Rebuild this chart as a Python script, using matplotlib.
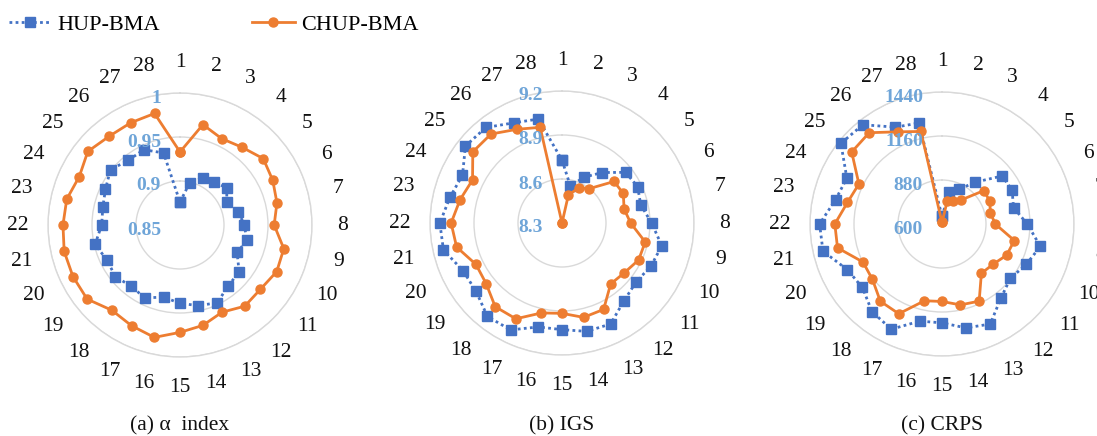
import numpy as np
import matplotlib
matplotlib.use("Agg")
import matplotlib.pyplot as plt
from matplotlib.lines import Line2D
from matplotlib.transforms import offset_copy

plt.rcParams["font.family"] = ["Liberation Serif", "DejaVu Serif"]

W, H = 1097, 436
BLUE = "#4472C4"
ORANGE = "#ED7D31"
TICK_BLUE = "#6FA5D8"
GRID = "#D9D9D9"

categories = [str(i) for i in range(1, 29)]

# (a) alpha index
alpha_hup = [0.876, 0.899, 0.909, 0.912, 0.918, 0.909, 0.918, 0.923, 0.928, 0.922,
             0.936, 0.938, 0.948, 0.944, 0.939, 0.934, 0.942, 0.939, 0.944, 0.942,
             0.949, 0.939, 0.940, 0.944, 0.951, 0.944, 0.945, 0.934]
alpha_chup = [0.933, 0.967, 0.959, 0.963, 0.971, 0.967, 0.963, 0.957, 0.971, 0.972,
              0.967, 0.968, 0.960, 0.967, 0.972, 0.981, 0.977, 0.974, 0.985, 0.985,
              0.985, 0.983, 0.982, 0.977, 0.984, 0.979, 0.979, 0.980]
alpha_ticks = [0.85, 0.9, 0.95, 1.0]
alpha_ticklabels = ["0.85", "0.9", "0.95", "1"]

# (b) IGS
igs_hup = [8.729, 8.558, 8.647, 8.740, 8.854, 8.872, 8.851, 8.911, 8.998, 8.974,
           8.946, 8.978, 9.064, 9.058, 9.027, 9.027, 9.109, 9.115, 9.049, 9.049,
           9.129, 9.133, 9.084, 9.053, 9.142, 9.133, 9.058, 9.027]
igs_chup = [8.300, 8.496, 8.567, 8.600, 8.754, 8.764, 8.734, 8.768, 8.882, 8.880,
            8.844, 8.832, 8.954, 8.960, 8.916, 8.929, 9.025, 9.030, 8.962, 8.951,
            9.037, 9.056, 9.013, 8.977, 9.078, 9.076, 9.009, 8.969]
igs_ticks = [8.3, 8.6, 8.9, 9.2]
igs_ticklabels = ["8.3", "8.6", "8.9", "9.2"]

# (c) CRPS
crps_hup = [648, 806, 844, 941, 1090, 1095, 1067, 1143, 1242, 1194,
            1156, 1202, 1307, 1278, 1229, 1234, 1343, 1314, 1248, 1269,
            1377, 1379, 1295, 1272, 1423, 1408, 1284, 1259]
crps_chup = [610, 747, 764, 796, 941, 937, 916, 939, 1072, 1057,
             1013, 1002, 1145, 1128, 1093, 1101, 1234, 1229, 1166, 1158,
             1282, 1282, 1217, 1187, 1335, 1343, 1251, 1204]
crps_ticks = [600, 880, 1160, 1440]
crps_ticklabels = ["600", "880", "1160", "1440"]

panels = [
    ("(a) α  index", alpha_hup, alpha_chup, alpha_ticks, alpha_ticklabels, 180, 225),
    ("(b) IGS", igs_hup, igs_chup, igs_ticks, igs_ticklabels, 562, 223),
    ("(c) CRPS", crps_hup, crps_chup, crps_ticks, crps_ticklabels, 942, 224),
]
R = 132  # outer ring radius in pixels

fig = plt.figure(figsize=(W / 100, H / 100), dpi=100)
fig.patch.set_facecolor("white")

theta = np.linspace(0, 2 * np.pi, len(categories), endpoint=False)
theta_closed = np.append(theta, theta[0])

for caption, hup, chup, ticks, ticklabels, cx, cy in panels:
    ax = fig.add_axes([(cx - R) / W, (H - cy - R) / H, 2 * R / W, 2 * R / H],
                      projection="polar")
    ax.set_theta_zero_location("N")
    ax.set_theta_direction(-1)
    ax.set_ylim(ticks[0], ticks[-1])
    ax.set_yticks(ticks[1:])
    ax.set_yticklabels([])
    ax.yaxis.grid(True, color=GRID, linewidth=1.0)
    ax.xaxis.grid(False)
    ax.spines["polar"].set_color(GRID)
    ax.spines["polar"].set_linewidth(1.0)
    ax.set_xticks(theta)
    ax.set_xticklabels(categories, fontsize=15.5, color="#111111")
    ax.tick_params(axis="x", pad=15, length=0)

    hv = np.append(hup, hup[0])
    cv = np.append(chup, chup[0])
    ax.plot(theta_closed, hv, color=BLUE, linestyle=(0, (1, 1.2)), linewidth=2.0,
            marker="s", markersize=6.5, markerfacecolor=BLUE, markeredgecolor=BLUE,
            clip_on=False, zorder=3)
    ax.plot(theta_closed, cv, color=ORANGE, linestyle="-", linewidth=2.0,
            marker="o", markersize=6.5, markerfacecolor=ORANGE, markeredgecolor=ORANGE,
            clip_on=False, zorder=4)

    tr = offset_copy(ax.transData, fig=fig, x=-19, y=-5, units="dots")
    for t, lab in zip(ticks, ticklabels):
        ax.text(0, t, lab, transform=tr, ha="right", va="center",
                fontsize=14, fontweight="bold", color=TICK_BLUE, zorder=5)

    fig.text(cx / W, 1 - 426 / H, caption, ha="center", va="center",
             fontsize=15.5, color="#111111")

handles = [
    Line2D([], [], color=BLUE, linestyle=(0, (1, 1.2)), linewidth=2.0,
           marker="s", markersize=6.5, markerfacecolor=BLUE, markeredgecolor=BLUE),
    Line2D([], [], color=ORANGE, linestyle="-", linewidth=2.0,
           marker="o", markersize=6.5, markerfacecolor=ORANGE, markeredgecolor=ORANGE),
]
fig.legend(handles, ["HUP-BMA", "CHUP-BMA"], loc="center left",
           bbox_to_anchor=(-7 / W, 1 - 25 / H), ncol=2, frameon=False,
           fontsize=16, handlelength=1.9, handletextpad=0.3, columnspacing=4.15,
           numpoints=1, borderaxespad=0.3)

fig.savefig("out.png", dpi=100, facecolor="white")
